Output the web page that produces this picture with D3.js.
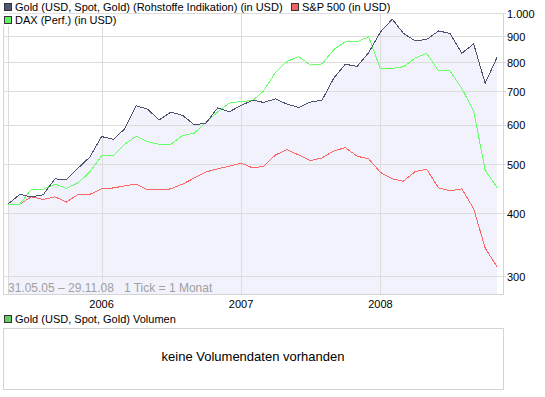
<!DOCTYPE html>
<html lang="de">
<head>
<meta charset="utf-8">
<title>Gold vs DAX vs S&amp;P 500</title>
<script src="https://d3js.org/d3.v7.min.js"></script>
<style>
  body { margin: 0; background: #fff; }
  svg { display: block; font-family: "Liberation Sans", Arial, sans-serif; font-size: 11px; }
</style>
</head>
<body>
<div id="chart"></div>
<script>

// monthly values, 31.05.05 - 29.11.08
var months = ["2005-05","2005-06","2005-07","2005-08","2005-09","2005-10","2005-11","2005-12",
  "2006-01","2006-02","2006-03","2006-04","2006-05","2006-06","2006-07","2006-08","2006-09","2006-10","2006-11","2006-12",
  "2007-01","2007-02","2007-03","2007-04","2007-05","2007-06","2007-07","2007-08","2007-09","2007-10","2007-11","2007-12",
  "2008-01","2008-02","2008-03","2008-04","2008-05","2008-06","2008-07","2008-08","2008-09","2008-10","2008-11"];

var gold  = [417,436,431,435,468,466,492,517,568,561,587,654,644,613,635,626,599,604,648,636,655,671,
             664,675,659,649,665,671,743,791,783,834,917,972,911,880,886,921,911,832,868,725,816];
var dax   = [417,417,446,446,457,448,460,483,520,520,547,569,555,548,548,571,577,606,636,662,667,670,
             700,762,801,819,788,792,846,877,877,897,774,776,782,814,831,767,767,708,638,487,450];
var sp500 = [417,417,431,426,431,421,436,436,447,449,453,457,445,445,447,457,470,483,490,496,503,492,
             496,522,535,522,509,515,532,540,519,513,482,468,463,484,489,449,443,447,408,341,313];

var yTicks = [1000, 900, 800, 700, 600, 500, 400, 300];
var yearTicks = ["2006-01", "2007-01", "2008-01"];

var legendTop = [
  {name: "Gold (USD, Spot, Gold) (Rohstoffe Indikation) (in USD)", color: "#4f5775", row: 0, col: 0},
  {name: "S&P 500 (in USD)", color: "#f26262", row: 0, col: 1},
  {name: "DAX (Perf.) (in USD)", color: "#66f066", row: 1, col: 0}
];

var W = 545, H = 397;
var plot = {left: 3, right: 503, top: 13, bottom: 294};
var dataLeft = 8, dataRight = 497;

var parse = d3.timeParse("%Y-%m");
var dates = months.map(parse);

var svg = d3.select("#chart").append("svg")
  .attr("width", W)
  .attr("height", H);

var x = d3.scaleTime()
  .domain(d3.extent(dates))
  .range([dataLeft, dataRight]);

var y = d3.scaleLog()
  .domain([276.3, 1000])
  .range([plot.bottom, plot.top]);

// frame
svg.append("rect")
  .attr("x", plot.left + 0.5).attr("y", plot.top + 0.5)
  .attr("width", plot.right - plot.left).attr("height", plot.bottom - plot.top)
  .attr("fill", "#fff").attr("stroke", "#d4d4d4");

// shaded area under gold
var area = d3.area()
  .x(function(d, i) { return x(dates[i]); })
  .y0(plot.bottom)
  .y1(function(d) { return y(d); });

svg.append("path")
  .datum(gold)
  .attr("d", area)
  .attr("fill", "#f2f2fc");

// horizontal grid + right axis labels
svg.append("g")
  .selectAll("line")
  .data(yTicks)
  .enter().append("line")
    .attr("x1", plot.left).attr("x2", plot.right + 3)
    .attr("y1", function(d) { return Math.round(y(d)) + 0.5; })
    .attr("y2", function(d) { return Math.round(y(d)) + 0.5; })
    .attr("stroke", "#dcdcdc");

svg.append("g")
  .selectAll("text")
  .data(yTicks)
  .enter().append("text")
    .attr("x", plot.right + 4)
    .attr("y", function(d) { return y(d) + 1; })
    .attr("dy", "0.35em")
    .attr("fill", "#000")
    .text(function(d) { return d3.format(",")(d).replace(",", "."); });

// vertical grid
var vLines = [dates[0]].concat(yearTicks.map(parse));
svg.append("g")
  .selectAll("line")
  .data(vLines)
  .enter().append("line")
    .attr("x1", function(d) { return Math.round(x(d)) + 0.5; })
    .attr("x2", function(d) { return Math.round(x(d)) + 0.5; })
    .attr("y1", plot.top).attr("y2", plot.bottom)
    .attr("stroke", "#dcdcdc");

// year labels
svg.append("g")
  .selectAll("text")
  .data(yearTicks)
  .enter().append("text")
    .attr("x", function(d) { return x(parse(d)); })
    .attr("y", 308)
    .attr("text-anchor", "middle")
    .text(function(d) { return d.slice(0, 4); });

// lines
var line = d3.line()
  .x(function(d, i) { return x(dates[i]); })
  .y(function(d) { return y(d); });

[[sp500, "#ff6464"], [dax, "#66ff66"], [gold, "#4b5270"]].forEach(function(s) {
  svg.append("path")
    .datum(s[0])
    .attr("d", line)
    .attr("fill", "none")
    .attr("stroke", s[1])
    .attr("stroke-width", 1)
    .style("shape-rendering", "crispEdges");
});

// period note
svg.append("text")
  .attr("x", 8).attr("y", 292)
  .attr("fill", "#a0a0a0")
  .style("font-size", "12px")
  .style("white-space", "pre")
  .text("31.05.05 \u2013 29.11.08   1 Tick = 1 Monat");

// top legend
var lg = svg.append("g");
legendTop.forEach(function(d) {
  var lx = d.col === 0 ? 4 : 291;
  var ly = 3 + d.row * 13;
  var t = lg.append("text")
    .attr("x", lx + 11).attr("y", ly + 4)
    .attr("dy", "0.35em")
    .text(d.name);
  var bb = t.node().getBBox();
  lg.insert("rect", "text")
    .attr("x", lx - 1).attr("y", bb.y)
    .attr("width", bb.x + bb.width - lx + 3).attr("height", bb.height)
    .attr("fill", "#fff");
  lg.append("rect")
    .attr("x", lx + 0.5).attr("y", ly + 0.5)
    .attr("width", 7).attr("height", 7)
    .attr("fill", d.color).attr("stroke", "#333");
});

// volume panel
svg.append("rect")
  .attr("x", 4.5).attr("y", 315.5)
  .attr("width", 7).attr("height", 7)
  .attr("fill", "#66cc66").attr("stroke", "#333");
svg.append("text")
  .attr("x", 15).attr("y", 319)
  .attr("dy", "0.35em")
  .text("Gold (USD, Spot, Gold) Volumen");

svg.append("rect")
  .attr("x", plot.left + 0.5).attr("y", 328.5)
  .attr("width", plot.right - plot.left).attr("height", 61)
  .attr("fill", "#fff").attr("stroke", "#d4d4d4");
svg.append("text")
  .attr("x", (plot.left + plot.right) / 2).attr("y", 356)
  .attr("dy", "0.35em")
  .attr("text-anchor", "middle")
  .style("font-size", "13px")
  .text("keine Volumendaten vorhanden");

</script>
</body>
</html>
